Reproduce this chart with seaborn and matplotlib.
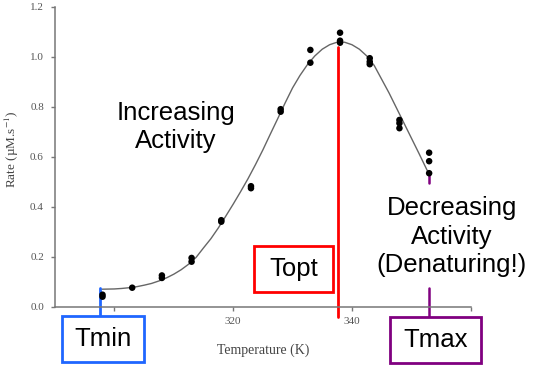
import matplotlib
matplotlib.use("Agg")
import matplotlib.pyplot as plt
from matplotlib.patches import Rectangle
import pandas as pd
import seaborn as sns

# measured rates (dots)
temp_pts = [298, 298, 303, 308, 308, 313, 313, 318, 318, 323, 323, 328, 328,
            333, 333, 338, 338, 338, 343, 343, 343, 348, 348, 348, 353, 353, 353]
rate_pts = [0.040, 0.048, 0.076, 0.115, 0.125, 0.180, 0.195, 0.340, 0.346,
            0.474, 0.482, 0.780, 0.790, 1.027, 0.976, 1.096, 1.064, 1.056,
            0.994, 0.980, 0.970, 0.747, 0.734, 0.714, 0.616, 0.582, 0.534]

# fitted curve
temp_fit = [297.9, 300, 301.25, 302.5, 303.75, 305, 306.25, 307.5, 308.75,
            310, 311.25, 312.5, 313.75, 315, 316.25, 317.5, 318.75, 320,
            321.25, 322.5, 323.75, 325, 326.25, 327.5, 328.75, 330, 331.25,
            332.5, 333.75, 335, 336.25, 337.5, 338.75, 340, 341.25, 342.5,
            343.75, 345, 346.25, 347.5, 348.75, 350, 351.25, 352.9]
rate_fit = [0.070, 0.071, 0.073, 0.076, 0.080, 0.086, 0.093, 0.103, 0.115,
            0.130, 0.148, 0.170, 0.197, 0.235, 0.272, 0.315, 0.362, 0.410,
            0.460, 0.512, 0.568, 0.627, 0.690, 0.752, 0.815, 0.875, 0.925,
            0.968, 1.003, 1.030, 1.048, 1.058, 1.058, 1.048, 1.030, 1.003,
            0.965, 0.910, 0.855, 0.795, 0.735, 0.675, 0.615, 0.534]

x_ticks = [300, 320, 340, 360]
y_ticks = [0.0, 0.2, 0.4, 0.6, 0.8, 1.0, 1.2]

T_MIN, T_OPT, T_MAX = 297.6, 337.7, 353.0

pts = pd.DataFrame({"temp": temp_pts, "rate": rate_pts})
fit = pd.DataFrame({"temp": temp_fit, "rate": rate_fit})

sns.set_style("white")
plt.rcParams["mathtext.fontset"] = "stix"
W, H = 534, 367
fig = plt.figure(figsize=(W / 100, H / 100), dpi=100)
ax = fig.add_axes([55 / W, 1 - 306.7 / H, 415.7 / W, 300 / H])


def fpx(x, y):
    # pixel position (from top-left) -> figure fraction
    return x / W, 1 - y / H


sns.lineplot(data=fit, x="temp", y="rate", ax=ax, color="#666666", lw=1.0,
             estimator=None, sort=False)
sns.scatterplot(data=pts, x="temp", y="rate", ax=ax, color="black", s=22,
                edgecolor="none", zorder=3)

ax.set_xlim(290, 360)
ax.set_ylim(0, 1.2)
ax.set_xticks(x_ticks)
ax.set_yticks(y_ticks)
ax.set_yticklabels([f"{v:.1f}" for v in y_ticks])
sns.despine(ax=ax)
for s in ["left", "bottom"]:
    ax.spines[s].set_color("#777777")
    ax.spines[s].set_linewidth(1.1)
ax.tick_params(axis="both", direction="out", length=3, width=1, color="#777777",
               labelsize=8, labelcolor="#555555", left=True, bottom=True)
ax.tick_params(axis="x", pad=4.5)
ax.tick_params(axis="y", pad=5)
for lab in ax.get_xticklabels() + ax.get_yticklabels():
    lab.set_family("Liberation Serif")

ax.set_xlabel("Temperature (K)", family="Liberation Serif", fontsize=10,
              color="#444444")
ax.set_ylabel(r"Rate (µM.s$^{-1}$)", family="Liberation Serif", fontsize=9.5,
              color="#444444")
ax.xaxis.set_label_coords(0.5, -0.144)
ax.xaxis.label.set_va("center")
ax.yaxis.set_label_coords(-0.1034, 0.526)
ax.yaxis.label.set_va("center")

# marker lines
ax.plot([T_MIN, T_MIN], [0.074, -0.036], color="#1f66ff", lw=2, clip_on=False)
ax.plot([T_OPT, T_OPT], [1.04, -0.04], color="#ff0000", lw=2, clip_on=False)
ax.plot([T_MAX, T_MAX], [0.527, 0.495], color="#800080", lw=1.8, clip_on=False)
ax.plot([T_MAX, T_MAX], [0.074, -0.04], color="#800080", lw=1.8, clip_on=False)

txt = dict(family="Liberation Sans", fontsize=18.5, color="black",
           ha="center", va="center")

# boxes: (x0, y0, x1, y1) in pixels, colour, label
boxes = [((61.7, 315.7, 144.3, 361.7), "#1f66ff", "Tmin"),
         ((254.3, 245.7, 333.3, 292.3), "#ff0000", "Topt"),
         ((390.0, 316.7, 481.0, 362.7), "#800080", "Tmax")]
for (x0, y0, x1, y1), col, lab in boxes:
    fx, fy = fpx(x0, y1)
    fig.add_artist(Rectangle((fx, fy), (x1 - x0) / W, (y1 - y0) / H,
                             transform=fig.transFigure, facecolor="white",
                             edgecolor=col, lw=2, zorder=5))
    cx, cy = fpx((x0 + x1) / 2, (y0 + y1) / 2)
    fig.text(cx, cy, lab, zorder=6, **txt)

cx, cy = fpx(176, 127)
fig.text(cx, cy, "Increasing\nActivity", linespacing=1.2, **txt)
cx, cy = fpx(451.7, 236.7)
fig.text(cx, cy, "Decreasing\nActivity\n(Denaturing!)", linespacing=1.25, **txt)

fig.savefig("out.png", dpi=100)
